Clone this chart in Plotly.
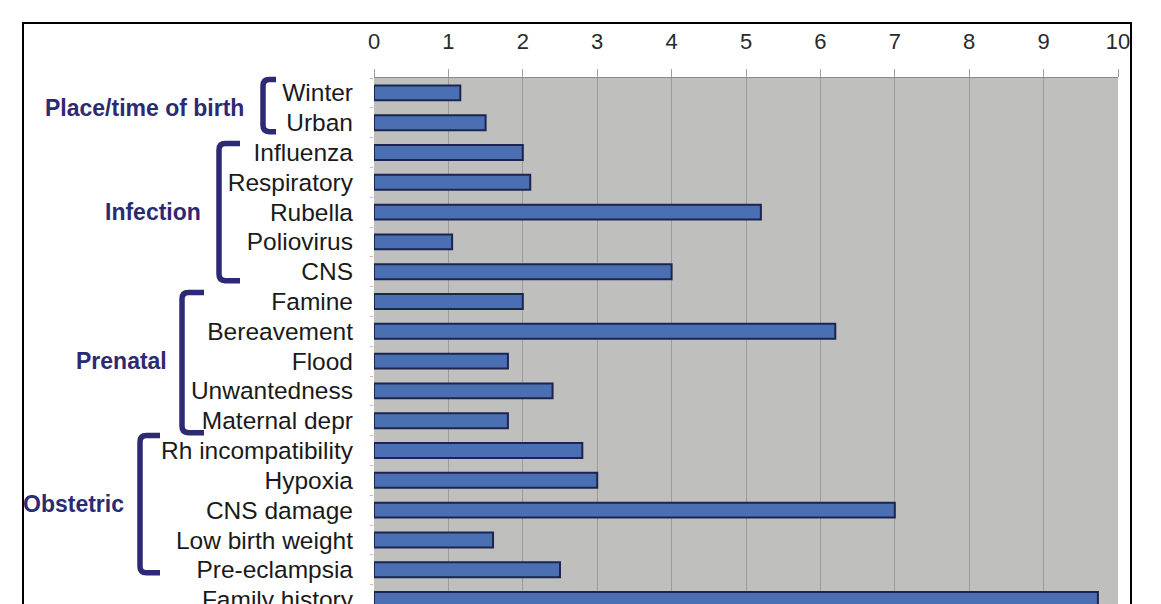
import plotly.graph_objects as go

# ---------------- data ----------------
categories = ["Winter", "Urban", "Influenza", "Respiratory", "Rubella", "Poliovirus", "CNS",
              "Famine", "Bereavement", "Flood", "Unwantedness", "Maternal depr",
              "Rh incompatibility", "Hypoxia", "CNS damage", "Low birth weight",
              "Pre-eclampsia", "Family history"]
values = [1.16, 1.5, 2.0, 2.1, 5.2, 1.05, 4.0,
          2.0, 6.2, 1.8, 2.4, 1.8,
          2.8, 3.0, 7.0, 1.6,
          2.5, 9.73]
x_ticks = list(range(0, 11))
groups = ["Place/time of birth", "Infection", "Prenatal", "Obstetric"]
group_first = [0, 2, 7, 12]
group_last = [1, 6, 11, 16]
group_label_pos = [0.5, 4, 9, 13.8]

# ---------------- layout geometry ----------------
OFF = 8                      # page body margin
W, H = 1161 - OFF, 604 - OFF
ML, MR, MT, MB = 374 - OFF, 43, 78 - OFF, 0
PW, PH = W - ML - MR, H - MT - MB
Y_TOP, Y_BOT = -0.5, 17.15          # category index range (reversed)

def px_x(px):
    # px given in screen (reference) coordinates
    return (px - OFF - ML) / PW

def idx_y(idx):
    return (Y_BOT - idx) / (Y_BOT - Y_TOP)

def px_y(py):
    return (H - MB - (py - OFF)) / PH

NAVY = "#2c2a72"
FONT = "Liberation Sans, Arial, sans-serif"

fig = go.Figure()
fig.add_trace(go.Bar(
    y=categories, x=values, orientation="h",
    marker=dict(color="#4b6fb3", line=dict(color="#1c2550", width=2)),
    hoverinfo="x+y",
))

shapes = []
# outer border
shapes.append(dict(type="rect", xref="paper", yref="paper",
                   x0=px_x(23), x1=px_x(1131), y0=px_y(650), y1=px_y(23),
                   line=dict(color="black", width=2), fillcolor="rgba(0,0,0,0)", layer="below"))

# brackets
br_x = [263, 219, 182, 140]
br_hook = [276, 240, 204, 160]
br_top_off = [-0.45, -0.3, -0.3, -0.5]
br_bot_off = [0.3, 0.3, 0.4, 0.1]
for k in range(len(groups)):
    xv = px_x(br_x[k]); xh = px_x(br_hook[k])
    yt = idx_y(group_first[k] + br_top_off[k])
    yb = idx_y(group_last[k] + br_bot_off[k])
    r = 0.012
    rx = r * PH / PW
    path = (f"M {xh},{yt} L {xv+rx},{yt} Q {xv},{yt} {xv},{yt-r} "
            f"L {xv},{yb+r} Q {xv},{yb} {xv+rx},{yb} L {xh},{yb}")
    shapes.append(dict(type="path", xref="paper", yref="paper", path=path,
                       line=dict(color=NAVY, width=5.5)))

annotations = []
label_right = [246, 203, 169, 126]
for k, g in enumerate(groups):
    annotations.append(dict(text=f"<b>{g}</b>", xref="paper", yref="paper",
                            x=px_x(label_right[k]), y=idx_y(group_label_pos[k]),
                            xanchor="right", yanchor="middle", showarrow=False,
                            font=dict(family=FONT, size=23, color=NAVY)))

fig.update_layout(
    width=W, height=H,
    margin=dict(l=ML, r=MR, t=MT, b=MB, pad=0, autoexpand=False),
    paper_bgcolor="white",
    plot_bgcolor="#bfc0bd",
    bargap=0.5,
    showlegend=False,
    shapes=shapes,
    annotations=annotations,
    xaxis=dict(side="top", range=[0, 10], tickvals=x_ticks, ticktext=[str(t) for t in x_ticks],
               showgrid=True, gridcolor="#9a9c99", gridwidth=1,
               ticks="outside", ticklen=8, tickcolor="#a0a0a0",
               ticklabelstandoff=11, automargin=False,
               tickfont=dict(family=FONT, size=22, color="#2a2a2a"),
               showline=True, linecolor="#8a8a8a", linewidth=1, zeroline=False,
               fixedrange=True),
    yaxis=dict(type="category", categoryorder="array", categoryarray=categories,
               range=[Y_BOT, Y_TOP], showgrid=False, zeroline=False,
               ticks="outside", ticklen=3, tickcolor="#e0b0b0", tickson="boundaries",
               ticklabelstandoff=20, automargin=False,
               tickfont=dict(family=FONT, size=24.5, color="#1a1a1a"),
               showline=False, fixedrange=True),
)

fig.write_html("out.html")
